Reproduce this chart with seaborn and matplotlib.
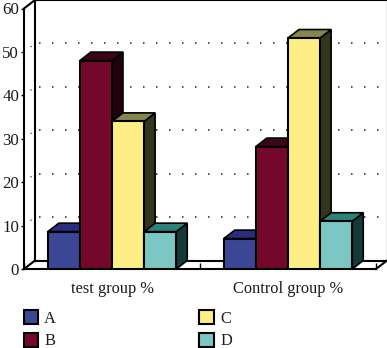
import matplotlib
matplotlib.use("Agg")
import matplotlib.pyplot as plt
from matplotlib.patches import Polygon, Patch
import pandas as pd
import seaborn as sns

groups = ["test group %", "Control group %"]
series = ["A", "B", "C", "D"]
values_a = [8.6, 7.0]
values_b = [48.0, 28.2]
values_c = [34.0, 53.2]
values_d = [8.6, 11.0]
front_colors = ["#3b4694", "#74082c", "#fdef85", "#7cc6c4"]
top_colors = ["#2a2c7c", "#3c0518", "#85854f", "#2f7f7b"]
side_colors = ["#16183f", "#1f020c", "#34351f", "#123a3a"]
y_ticks = [0, 10, 20, 30, 40, 50, 60]

W, H = 387, 348
AX_L, AX_R, AX_B, AX_T = 24, 376, 269, 8.5
DX_PX, DY_PX = 11, 8.5

sns.set_theme(style="white")
plt.rcParams["font.family"] = ["Liberation Serif", "DejaVu Serif"]

df = pd.DataFrame({
    "group": groups * 4,
    "series": [s for s in series for _ in groups],
    "value": values_a + values_b + values_c + values_d,
})

fig = plt.figure(figsize=(W / 100, H / 100), dpi=100, facecolor="white")
ax = fig.add_axes([AX_L / W, 1 - AX_B / H, (AX_R - AX_L) / W, (AX_B - AX_T) / H])
ax.patch.set_alpha(0)

sns.barplot(data=df, x="group", y="value", hue="series", hue_order=series,
            order=groups, palette=front_colors, width=0.73, gap=0, dodge=True,
            edgecolor="black", linewidth=1.5, saturation=1, legend=False, ax=ax)
ax.set_xlim(-0.5, 1.5)
ax.set_ylim(0, 60)

dx = DX_PX / (AX_R - AX_L) * 2
dy = DY_PX / (AX_B - AX_T) * 60

# Extruded faces, derived from the seaborn bars
bars = [c for c in ax.containers]
for i, cont in enumerate(bars):
    for bar in cont:
        x0, w, h = bar.get_x(), bar.get_width(), bar.get_height()
        x1 = x0 + w
        z = 3 + 0.1 * i + (x0 + 1)
        bar.set_zorder(z + 0.02)
        ax.add_patch(Polygon([(x1, 0), (x1 + dx, dy), (x1 + dx, h + dy), (x1, h)],
                             closed=True, fc=side_colors[i], ec="black", lw=1.2,
                             zorder=z, clip_on=False))
        ax.add_patch(Polygon([(x0, h), (x0 + dx, h + dy), (x1 + dx, h + dy), (x1, h)],
                             closed=True, fc=top_colors[i], ec="black", lw=1.2,
                             zorder=z + 0.01, clip_on=False))

# Dotted gridlines on the back wall and wall edge
x_back_l = -0.5 + dx
x_back_r = 1.5 + dx
for v in y_ticks[1:-1]:
    ax.plot([x_back_l + 0.02, x_back_r], [v + dy, v + dy], color="#333333", lw=1.2,
            ls=(0, (0.9, 6.9)), zorder=1, clip_on=False)
    ax.plot([-0.5 + 0.6 * dx, x_back_l], [v + 0.6 * dy, v + dy], color="#333333", lw=1.0,
            ls=(0, (0.8, 3.5)), zorder=1, clip_on=False)

# Frame of the 3D box
frame = dict(color="black", lw=1.5, zorder=2, clip_on=False, solid_capstyle="projecting")
ax.plot([x_back_l, x_back_l], [dy, 60 + dy], **frame)
ax.plot([x_back_l, x_back_r], [60 + dy, 60 + dy], **frame)
ax.plot([x_back_l, x_back_r], [dy, dy], **frame)
ax.plot([-0.5, x_back_l], [60, 60 + dy], **frame)
ax.plot([-0.5, x_back_l], [0, dy], **frame)
ax.plot([1.5, x_back_r], [0, dy], **frame)
ax.plot([x_back_r, x_back_r], [dy, 60 + dy], color="#9a9a9a", lw=1.0, zorder=2, clip_on=False)

sns.despine(ax=ax, top=True, right=True)
for s in ("left", "bottom"):
    ax.spines[s].set_color("black")
    ax.spines[s].set_linewidth(1.5)

ax.set_xlabel("")
ax.set_ylabel("")
ax.set_yticks(y_ticks)
ax.set_yticklabels([str(v) for v in y_ticks], fontsize=12.2, color="#1a1a1a")
ax.set_xticks([0, 1])
ax.set_xticklabels(groups, fontsize=11.8, color="#1a1a1a")
ax.set_xticks([-0.5, 0.5, 1.5], minor=True)
ax.tick_params(axis="y", which="major", left=True, length=2, width=1, pad=1.5, color="black")
ax.tick_params(axis="x", which="major", bottom=False, pad=2.5)
ax.tick_params(axis="x", which="minor", bottom=True, direction="in", length=4, width=1, color="black")

handles = [Patch(fc=c, ec="black", lw=1.5) for c in front_colors]
leg = fig.legend(handles, series, loc="upper left",
                 bbox_to_anchor=(23.5 / W, 1 - 310 / H), bbox_transform=fig.transFigure,
                 ncol=2, frameon=False, fontsize=11.8, borderpad=0, borderaxespad=0,
                 handlelength=0.88, handleheight=0.95, handletextpad=0.38,
                 labelspacing=0.36, columnspacing=8.75, labelcolor="#1a1a1a")

fig.savefig("out.png", dpi=100, facecolor="white")
